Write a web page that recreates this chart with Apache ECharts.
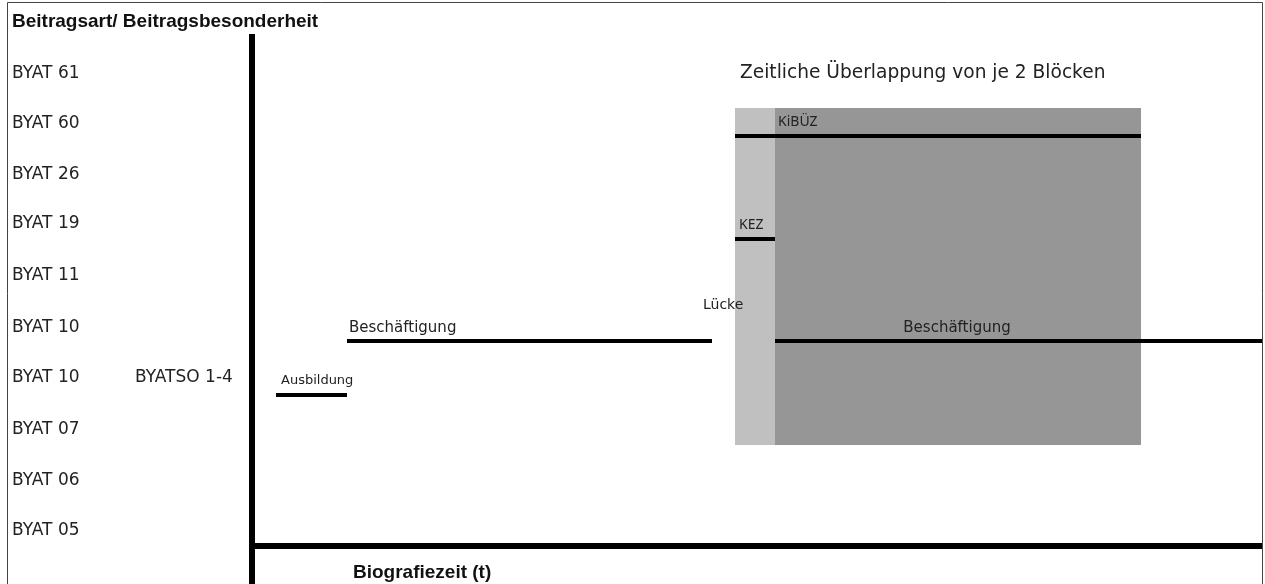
<!DOCTYPE html>
<html>
<head>
<meta charset="utf-8">
<script src="https://cdn.jsdelivr.net/npm/echarts@6/dist/echarts.min.js"></script>
<style>
html,body{margin:0;padding:0;background:#fff;}
#chart{width:1265px;height:584px;}
</style>
</head>
<body>
<div id="chart"></div>
<script>
// ---- Data ----
// Row labels on the y axis (bottom to top) and their levels
const rowLabels = ['BYAT 05','BYAT 06','BYAT 07','BYAT 10','BYAT 10','BYAT 11','BYAT 19','BYAT 26','BYAT 60','BYAT 61'];
const rowSubLabels = ['','','','BYATSO 1-4','','','','','',''];
const rowLevels = [3, 13, 23.2, 33.6, 43.6, 54, 64.4, 74.2, 84.4, 94.4];

// Time segments (biography periods)
const segmentNames = ['Ausbildung','Beschäftigung','Beschäftigung','KiBÜZ','KEZ'];
const segmentStart = [2.4, 9.5, 52.3, 48.3, 48.3];
const segmentEnd   = [9.5, 46.0, 101, 88.9, 52.3];
const segmentLevel = [30.2, 41, 41, 82, 61.4];

// Shaded blocks
const blockNames  = ['Lücke','Überlappung'];
const blockStart  = [48.3, 52.3];
const blockEnd    = [52.3, 88.9];
const blockTop    = [87.6, 87.6];
const blockBottom = [20.2, 20.2];

// Texts
const yAxisTitle = 'Beitragsart/ Beitragsbesonderheit';
const xAxisTitle = 'Biografiezeit (t)';
const overlapTitle = 'Zeitliche Überlappung von je 2 Blöcken';

// ---- Styles (kept separate from data) ----
const segmentLabelStyle = [
  {dx: 5,   dy: -14.5, align: 'left',   font: '13px "DejaVu Sans"'},
  {dx: 2,   dy: -13,   align: 'left',   font: '15px "DejaVu Sans"'},
  {dx: 182, dy: -13,   align: 'center', font: '15px "DejaVu Sans"'},
  {dx: 43,  dy: -14,   align: 'left',   font: '14px "Noto Sans"'},
  {dx: 4,   dy: -14,   align: 'left',   font: '14px "Noto Sans"'}
];
const blockColors = ['#c0c0c0', '#969696'];
const blockLabelStyle = [
  {show: true, dx: -32, dy: 197, align: 'left', font: '14px "DejaVu Sans"'},
  {show: false}
];

const segData = segmentNames.map((n, i) => [segmentStart[i], segmentEnd[i], segmentLevel[i], n]);
const blockData = blockNames.map((n, i) => [blockStart[i], blockEnd[i], blockTop[i], blockBottom[i], n]);

const chart = echarts.init(document.getElementById('chart'), null, {renderer: 'canvas'});

const option = {
  animation: false,
  backgroundColor: '#fff',
  title: [
    {text: yAxisTitle, left: 12, top: 12, padding: 0,
     textStyle: {fontFamily: '"Liberation Sans", Arial', fontWeight: 'bold', fontSize: 19, color: '#111'}},
    {text: xAxisTitle, left: 353, top: 563, padding: 0,
     textStyle: {fontFamily: '"Liberation Sans", Arial', fontWeight: 'bold', fontSize: 19, color: '#111'}},
    {text: overlapTitle, left: 740, top: 64, padding: 0,
     textStyle: {fontFamily: '"DejaVu Sans"', fontWeight: 'normal', fontSize: 18.6, color: '#222'}}
  ],
  graphic: [
    {type: 'rect', shape: {x: 7.5, y: 2.5, width: 1255, height: 620},
     style: {fill: 'none', stroke: '#444', lineWidth: 1}, silent: true, z: 100}
  ],
  grid: {left: 252, right: 3, top: 34, bottom: 0, containLabel: false},
  xAxis: {
    type: 'value', min: 0, max: 101,
    axisLine: {show: true, onZero: true, lineStyle: {color: '#000', width: 6, cap: 'butt'}},
    axisTick: {show: false}, axisLabel: {show: false}, splitLine: {show: false}
  },
  yAxis: {
    type: 'value', min: -7.6, max: 102.4,
    axisLine: {show: true, onZero: true, lineStyle: {color: '#000', width: 6, cap: 'butt'}},
    axisTick: {show: false},
    splitLine: {show: false},
    axisLabel: {
      show: true,
      customValues: rowLevels,
      align: 'left',
      margin: 240,
      fontFamily: '"DejaVu Sans"',
      fontSize: 17,
      color: '#222',
      formatter: function (v) {
        const i = rowLevels.findIndex(l => Math.abs(l - v) < 1e-6);
        if (i < 0) return '';
        if (rowSubLabels[i]) return '{a|' + rowLabels[i] + '}{b|' + rowSubLabels[i] + '}';
        return '{a|' + rowLabels[i] + '}';
      },
      rich: {
        a: {fontFamily: '"DejaVu Sans"', fontSize: 17, color: '#222', width: 123, align: 'left'},
        b: {fontFamily: '"DejaVu Sans"', fontSize: 17, color: '#222', align: 'left'}
      }
    }
  },
  series: [
    {
      type: 'custom',
      name: 'blocks',
      data: blockData,
      clip: false,
      z: 1,
      renderItem: function (params, api) {
        const i = params.dataIndex;
        const tl = api.coord([api.value(0), api.value(2)]);
        const br = api.coord([api.value(1), api.value(3)]);
        const children = [{
          type: 'rect',
          shape: {x: tl[0], y: tl[1], width: br[0] - tl[0], height: br[1] - tl[1]},
          style: {fill: blockColors[i]}
        }];
        const ls = blockLabelStyle[i];
        if (ls.show) {
          children.push({
            type: 'text', z2: 10,
            x: tl[0] + ls.dx, y: tl[1] + ls.dy,
            style: {text: blockNames[i], font: ls.font, fill: '#222', align: ls.align, verticalAlign: 'middle'}
          });
        }
        return {type: 'group', children: children};
      }
    },
    {
      type: 'custom',
      name: 'segments',
      data: segData,
      clip: false,
      z: 3,
      renderItem: function (params, api) {
        const i = params.dataIndex;
        const p1 = api.coord([api.value(0), api.value(2)]);
        const p2 = api.coord([api.value(1), api.value(2)]);
        const ls = segmentLabelStyle[i];
        return {type: 'group', children: [
          {type: 'line', shape: {x1: p1[0], y1: p1[1], x2: p2[0], y2: p2[1]},
           style: {stroke: '#000', lineWidth: 4}},
          {type: 'text', x: p1[0] + ls.dx, y: p1[1] + ls.dy,
           style: {text: segmentNames[i], font: ls.font, fill: '#222', align: ls.align, verticalAlign: 'middle'}}
        ]};
      }
    }
  ]
};
chart.setOption(option);
</script>
</body>
</html>
